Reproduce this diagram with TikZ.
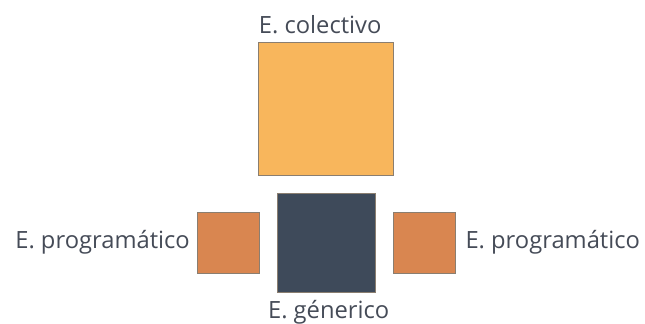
\documentclass[tikz,border=0pt]{standalone}
\usepackage{fontspec}
\setmainfont{Open Sans}
\usetikzlibrary{positioning}
\definecolor{colorange}{HTML}{F8B65C}
\definecolor{progorange}{HTML}{D98650}
\definecolor{genslate}{HTML}{3E4A5A}
\definecolor{edgegray}{HTML}{8A7E70}
\definecolor{labelgray}{HTML}{454B57}
\tikzset{
  sqbox/.style={draw=edgegray, line width=0.4pt, inner sep=0pt},
  lbl/.style={text=labelgray, inner sep=0pt, font=\fontsize{17.8}{20}\selectfont}
}
\begin{document}
\begin{tikzpicture}[x=0.75pt,y=-0.75pt]
      \useasboundingbox (0,0) rectangle (645,324);
      % squares
      \node[sqbox, fill=colorange, minimum width=101.25pt, minimum height=99.75pt] (colectivo) at (325.5,108.5) {};
      \node[sqbox, fill=genslate, minimum width=73.5pt, minimum height=74.25pt] (generico) at (326,242.5) {};
      \node[sqbox, fill=progorange, minimum width=46.5pt, minimum height=45.75pt] (progL) at (228,242.5) {};
      \node[sqbox, fill=progorange, minimum width=46.5pt, minimum height=45.75pt] (progR) at (424,242.5) {};
      % labels
      \node[lbl, above=6pt of colectivo, xshift=-4pt] (colectivoT) {E. colectivo};
      \node[lbl, below=6pt of generico, xshift=2pt] (genericoT) {E. génerico};
      \node[lbl, left=5pt of progL] (progLT) {E. programático};
      \node[lbl, right=7.5pt of progR] (progRT) {E. programático};
\end{tikzpicture}
\end{document}
